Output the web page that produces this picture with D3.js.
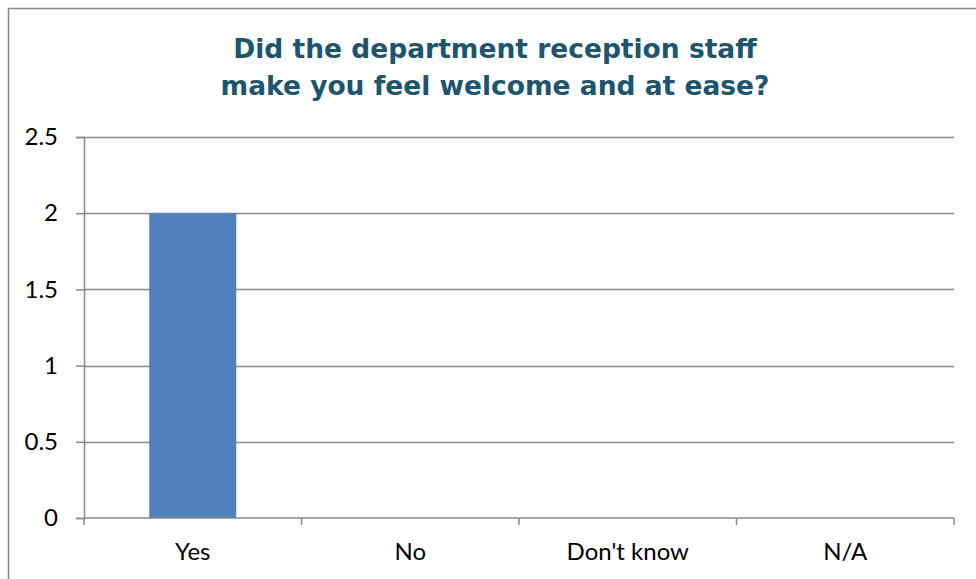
<!DOCTYPE html>
<html>
<head>
<meta charset="utf-8">
<script src="https://cdn.jsdelivr.net/npm/d3@7"></script>
<style>
  html, body { margin: 0; padding: 0; background: #fff; }
  svg { display: block; }
</style>
</head>
<body>
<svg id="chart" width="976" height="579"></svg>
<script>
// Survey responses
const categories = ["Yes", "No", "Don't know", "N/A"];
const counts = [2, 0, 0, 0];
const yTicks = [0, 0.5, 1, 1.5, 2, 2.5];
const titleLines = ["Did the department reception staff", "make you feel welcome and at ease?"];

const svg = d3.select("#chart");
const W = 976, H = 579;
const margin = { left: 84, right: 22, top: 137, bottom: 61 };
const gray = "#888888";
const labelFont = "Lato, 'Open Sans', sans-serif";

// Outer chart frame
svg.append("rect")
  .attr("x", 8.5).attr("y", 8.5)
  .attr("width", W + 10).attr("height", H + 10)
  .attr("fill", "#fff").attr("stroke", gray).attr("stroke-width", 1.5);

const x = d3.scaleBand()
  .domain(categories)
  .range([margin.left, W - margin.right])
  .paddingInner(0.6).paddingOuter(0.3);

const xEdges = d3.scaleBand()
  .domain(categories)
  .range([margin.left, W - margin.right]);

const y = d3.scaleLinear()
  .domain([0, 2.5])
  .range([H - margin.bottom, margin.top]);

// Horizontal gridlines
svg.append("g")
  .selectAll("line")
  .data(yTicks.filter(d => d > 0))
  .join("line")
  .attr("x1", margin.left).attr("x2", W - margin.right)
  .attr("y1", d => Math.round(y(d)) + 0.5).attr("y2", d => Math.round(y(d)) + 0.5)
  .attr("stroke", gray).attr("stroke-width", 1.5);

// Bars
svg.append("g")
  .selectAll("rect")
  .data(categories.map((c, i) => ({ c, v: counts[i] })))
  .join("rect")
  .attr("x", d => x(d.c))
  .attr("width", x.bandwidth())
  .attr("y", d => y(d.v))
  .attr("height", d => y(0) - y(d.v))
  .attr("fill", "#4F81BD");

// Y axis
const yAxis = svg.append("g")
  .attr("transform", `translate(${margin.left},0)`)
  .call(d3.axisLeft(y).tickValues(yTicks).tickSize(8).tickPadding(18)
    .tickFormat(d => String(d)));
yAxis.select(".domain").attr("stroke", gray).attr("stroke-width", 1.5);
yAxis.selectAll(".tick line").attr("stroke", gray).attr("stroke-width", 1.5);
yAxis.selectAll("text")
  .attr("font-family", labelFont)
  .attr("font-size", 24).attr("fill", "#000");

// X axis with ticks at category boundaries
const xAxisG = svg.append("g").attr("transform", `translate(0,${y(0)})`);
xAxisG.append("line")
  .attr("x1", margin.left).attr("x2", W - margin.right)
  .attr("stroke", gray).attr("stroke-width", 1.5);
const edges = categories.map(c => xEdges(c)).concat([W - margin.right]);
xAxisG.selectAll("line.edge")
  .data(edges)
  .join("line").attr("class", "edge")
  .attr("x1", d => d).attr("x2", d => d)
  .attr("y1", 0).attr("y2", 7)
  .attr("stroke", gray).attr("stroke-width", 1.5);
xAxisG.selectAll("text")
  .data(categories)
  .join("text")
  .attr("x", d => xEdges(d) + xEdges.bandwidth() / 2)
  .attr("y", 42)
  .attr("text-anchor", "middle")
  .attr("font-family", labelFont)
  .attr("font-size", 24).attr("fill", "#000")
  .text(d => d);

// Title
svg.append("text")
  .attr("x", 495).attr("y", 58)
  .attr("text-anchor", "middle")
  .attr("font-family", "'DejaVu Sans', Verdana, sans-serif")
  .attr("font-weight", "bold")
  .attr("font-size", 26.5)
  .attr("fill", "#1A5670")
  .selectAll("tspan")
  .data(titleLines)
  .join("tspan")
  .attr("x", 495)
  .attr("dy", (d, i) => i === 0 ? 0 : 37)
  .text(d => d);
</script>
</body>
</html>
